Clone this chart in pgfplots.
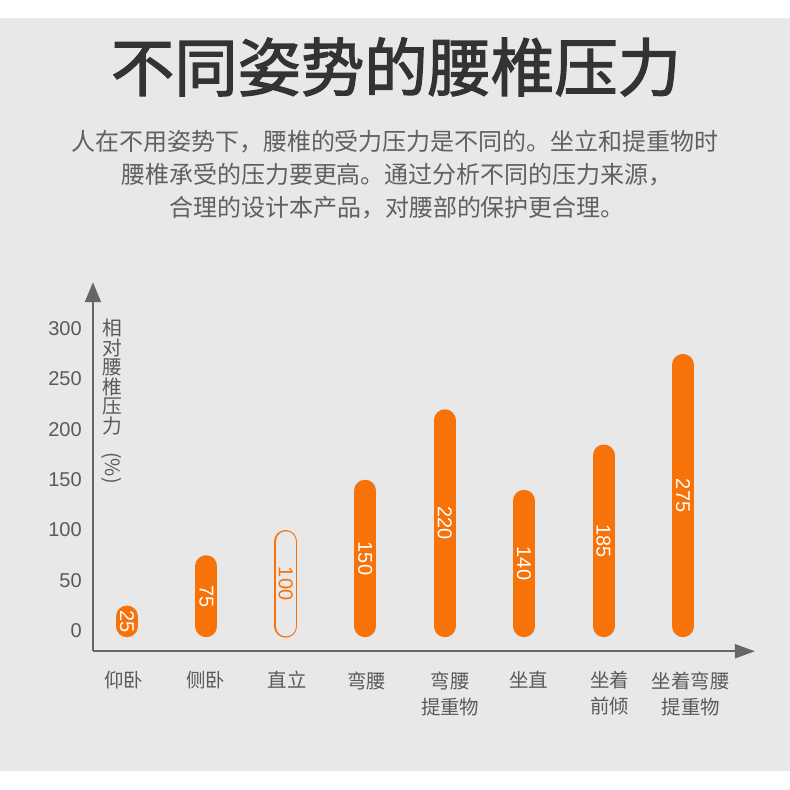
\documentclass[border=0pt]{standalone}
\usepackage{pgfplots}
\pgfplotsset{compat=1.18}
\usepackage{fontspec}
\setmainfont{Liberation Sans}
\newfontfamily\cjk{Noto Sans CJK SC}
\newfontfamily\cjkt[FakeBold=2]{Noto Sans CJK SC}
\usetikzlibrary{arrows.meta}
\definecolor{bg}{HTML}{E8E8E8}
\definecolor{org}{HTML}{F8720A}
\definecolor{axc}{HTML}{666666}
\definecolor{txt}{HTML}{5A5A5A}
\definecolor{sub}{HTML}{606060}
\definecolor{ttl}{HTML}{333333}
\newcommand{\pill}[2]{\addplot[ycomb, draw=org, line width=16.5pt, line cap=round, shorten <=3.4pt, shorten >=8.25pt, mark=none] coordinates {(#1,#2)};}
\begin{document}
\begin{tikzpicture}[x=0.75pt,y=0.75pt]
\fill[white] (0,0) rectangle (790,-790);
\fill[bg] (0,-18) rectangle (790,-771);
\node[anchor=base, text=ttl, font=\cjkt\fontsize{47.5}{50}\selectfont, inner sep=0] at (396,-91) {不同姿势的腰椎压力};
\node[anchor=base, text=sub, font=\cjk\fontsize{18}{24}\selectfont, inner sep=0] at (395,-150) {人在不用姿势下，腰椎的受力压力是不同的。坐立和提重物时};
\node[anchor=base, text=sub, font=\cjk\fontsize{18}{24}\selectfont, inner sep=0] at (397,-183) {腰椎承受的压力要更高。通过分析不同的压力来源，};
\node[anchor=base, text=sub, font=\cjk\fontsize{18}{24}\selectfont, inner sep=0] at (397,-216) {合理的设计本产品，对腰部的保护更合理。};
\node[anchor=north, align=center, text=txt, font=\cjk\fontsize{14.8}{14.6}\selectfont, inner sep=0] at (112,-319) {相\\对\\腰\\椎\\压\\力};
\node[rotate=-90, text=txt, font=\cjk\fontsize{14.8}{14.6}\selectfont, inner sep=0] at (112,-468) {(\%)};
\begin{axis}[
  at={(117,-647)}, anchor=south west, scale only axis,
  width=496.5pt, height=276.75pt,
  xmin=-0.428, xmax=7.906, ymin=-20.4, ymax=346.2,
  axis lines=left,
  x axis line style={draw=axc, line width=1.5pt, -{Triangle[length=15pt,width=10.5pt]}},
  y axis line style={draw=axc, line width=1.5pt, -{Triangle[length=15pt,width=12pt]}},
  major tick length=0pt,
  ytick={0,50,100,150,200,250,300},
  yticklabel style={font=\fontsize{15}{18}\selectfont, text=txt, anchor=east, inner sep=0pt, xshift=-8.25pt},
  /pgf/number format/assume math mode=true,
  xtick={-0.04,0.995,2.02,3.02,4.07,5.06,6.08,7.1},
  xticklabels={仰卧,侧卧,直立,弯腰,{弯腰\\提重物},坐直,{坐着\\前倾},{坐着弯腰\\提重物}},
  xticklabel style={align=center, font=\cjk\fontsize{14.6}{19.5}\selectfont, text=txt, anchor=north, inner sep=0pt, yshift=-15pt},
  clip=false,
]
\pill{0}{25}
\pill{1}{75}
\addplot[ycomb, draw=org, line width=17.25pt, line cap=round, shorten <=3.4pt, shorten >=8.6pt, mark=none] coordinates {(2,100)};
\addplot[ycomb, draw=bg, line width=15.3pt, line cap=round, shorten <=3.4pt, shorten >=8.6pt, mark=none] coordinates {(2,100)};
\pill{3}{150}
\pill{4}{220}
\pill{5}{140}
\pill{6}{185}
\pill{7}{275}
\addplot[draw=none, mark=none, nodes near coords, point meta=explicit symbolic,
  every node near coord/.append style={anchor=center, rotate=-90, text=white, font=\fontsize{15}{18}\selectfont, inner sep=0pt}]
  table[meta=lab] {
x y lab
0 9.25 25
1 34.25 75
3 71.75 150
4 106.75 220
5 66.75 140
6 89.25 185
7 134.25 275
};
\addplot[draw=none, mark=none, nodes near coords, point meta=explicit symbolic,
  every node near coord/.append style={anchor=center, rotate=-90, text=org, font=\fontsize{15}{18}\selectfont, inner sep=0pt}]
  table[meta=lab] {
x y lab
2 46.75 100
};
\end{axis}
\end{tikzpicture}
\end{document}
